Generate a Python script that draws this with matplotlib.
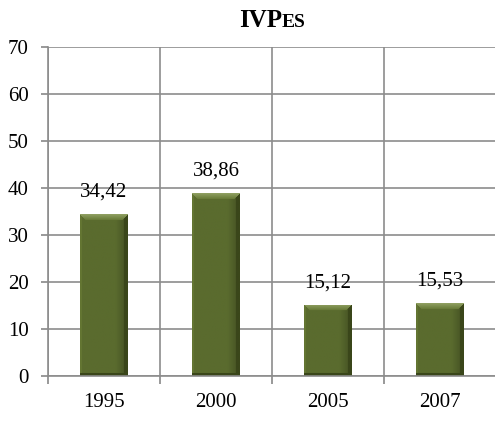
import numpy as np
import matplotlib
matplotlib.use("Agg")
import matplotlib.pyplot as plt
from matplotlib.ticker import FixedLocator

years = ["1995", "2000", "2005", "2007"]
values = [34.42, 38.86, 15.12, 15.53]
value_labels = ["34,42", "38,86", "15,12", "15,53"]
yticks = [0, 10, 20, 30, 40, 50, 60, 70]

plt.rcParams['font.family'] = ['Liberation Serif', 'DejaVu Serif']

fig = plt.figure(figsize=(4.95, 4.21), dpi=100)
ax = fig.add_axes([48/495, 1-376/421, 1 - 48/495 + 0.002, (376-47)/421])

x = np.arange(len(years))
bars = ax.bar(x, values, width=0.42, color='#5A6B2E', edgecolor='none', zorder=3)

ax.set_xlim(-0.5, len(years) - 0.5)
ax.set_ylim(0, 70)
ax.set_yticks(yticks)
ax.set_xticks(x)
ax.set_xticklabels(years, fontsize=15)
ax.tick_params(axis='x', which='major', length=0, pad=12)
ax.xaxis.set_minor_locator(FixedLocator(np.arange(-0.5, len(years), 1.0)))
ax.tick_params(axis='x', which='minor', length=6, color='#888888', width=1.2)
ax.tick_params(axis='y', length=5, color='#888888', width=1.2, labelsize=15, pad=9)

ax.grid(axis='y', color='#8c8c8c', linewidth=1.2, zorder=0)
ax.grid(axis='x', which='minor', color='#8c8c8c', linewidth=1.2, zorder=0)
for s in ['top', 'right']:
    ax.spines[s].set_visible(False)
for s in ['left', 'bottom']:
    ax.spines[s].set_color('#8c8c8c')
    ax.spines[s].set_linewidth(1.2)
ax.spines['bottom'].set_zorder(4)

# bevel shading via clipped gradient images
fig.canvas.draw()
base = np.array([0x5A, 0x6B, 0x2E]) / 255.0
light = np.array([0x8E, 0x9E, 0x60]) / 255.0
dark = np.array([0x3A, 0x46, 0x1A]) / 255.0
for b in bars:
    bx, by, bw, bh = b.get_x(), b.get_y(), b.get_width(), b.get_height()
    ext = b.get_window_extent()
    nx, ny = int(max(ext.width, 2)), int(max(ext.height, 2))
    img = np.ones((ny, nx, 4))
    fx = np.linspace(0, 1, nx)
    shade = 1.0 - 0.25 * np.clip((fx - 0.75) / 0.25, 0, 1)
    img[:, :, :3] = base[None, None, :] * shade[None, :, None]
    img[:, -4:, :3] = dark
    img[:, :2, :3] = np.clip(base * 1.1, 0, 1)
    bev = 6
    for r in range(min(bev, ny)):
        row = ny - 1 - r
        t = r / bev
        col = light * (1 - t) + np.clip(base * 1.1, 0, 1) * t
        img[row, r:nx - r, :3] = col
    img[:3, :, :3] = dark
    im = ax.imshow(img, extent=(bx, bx + bw, by, by + bh), origin='lower',
                   aspect='auto', zorder=3, interpolation='bilinear')
    im.set_clip_path(b)

ax.set_xlim(-0.5, len(years) - 0.5)
ax.set_ylim(0, 70)

for xi, v, lab in zip(x, values, value_labels):
    ax.annotate(lab, (xi, v), xytext=(0, 9), textcoords='offset points',
                ha='center', va='bottom', fontsize=15, zorder=5)

fig.text(282/495, 1-27/421, "IVP", ha='right', va='baseline', fontsize=18, fontweight='bold')
fig.text(282/495, 1-27/421, "ES", ha='left', va='baseline', fontsize=14, fontweight='bold')

fig.savefig("out.png", dpi=100)
